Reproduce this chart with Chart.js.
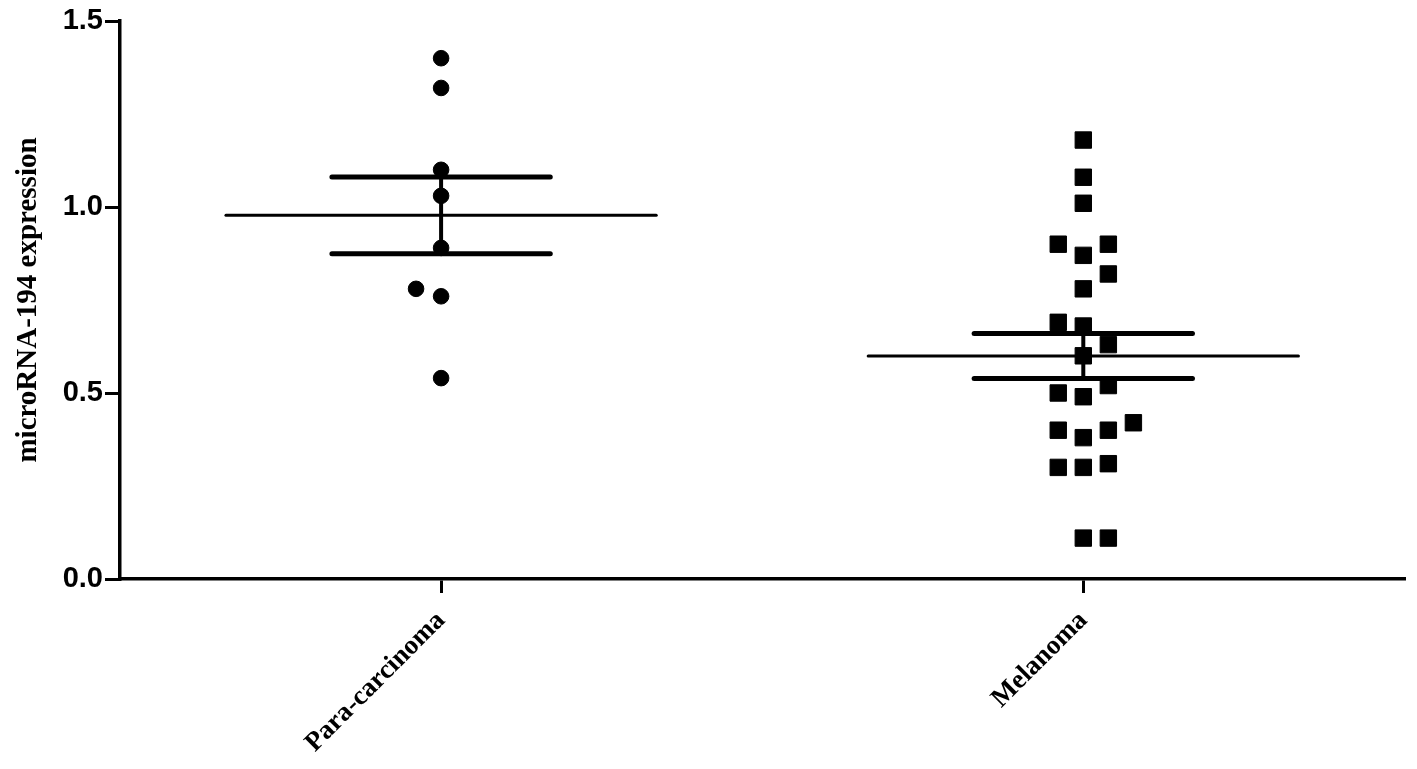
<!DOCTYPE html>
<html>
<head>
<meta charset="utf-8">
<script src="https://cdn.jsdelivr.net/npm/chart.js@4"></script>
<style>
  html, body { margin: 0; padding: 0; background: #fff; }
  #wrap { width: 1417px; height: 769px; }
</style>
</head>
<body>
<div id="wrap"><canvas id="myChart" width="1417" height="769"></canvas></div>
<script>
// Grupos del eje X
const categories = ['Para-carcinoma', 'Melanoma'];

// Valores de expresión
const paraValues = [1.40, 1.32, 1.10, 1.03, 0.89, 0.78, 0.76, 0.54];
const paraCols   = [0, 0, 0, 0, 0, -1, 0, 0]; // columna de dispersión

const melanomaValues = [1.18, 1.08, 1.01, 0.90, 0.90, 0.87, 0.82, 0.78, 0.69, 0.68, 0.63, 0.60,
                        0.52, 0.50, 0.49, 0.42, 0.40, 0.40, 0.38, 0.30, 0.30, 0.31, 0.11, 0.11];
const melanomaCols   = [0, 0, 0, -1, 1, 0, 1, 0, -1, 0, 1, 0,
                        1, -1, 0, 2, -1, 1, 0, -1, 0, 1, 0, 1];

const yTicks = [0, 0.5, 1.0, 1.5];

document.addEventListener('DOMContentLoaded', function() {
    const canvas = document.getElementById('myChart');
    const ctx = canvas.getContext('2d');

    const jitter = 0.039;
    const meanHalf = 0.335;
    const semHalf = 0.17;

    function puntos(values, cols, cat) {
        return values.map(function(v, i) { return { x: cat + cols[i] * jitter, y: v }; });
    }

    function media(values) {
        return values.reduce(function(a, b) { return a + b; }, 0) / values.length;
    }

    function sem(values) {
        const m = media(values);
        const ss = values.reduce(function(a, b) { return a + (b - m) * (b - m); }, 0);
        return Math.sqrt(ss / (values.length - 1)) / Math.sqrt(values.length);
    }

    function segmento(x1, y1, x2, y2, width) {
        return {
            data: [{ x: x1, y: y1 }, { x: x2, y: y2 }],
            showLine: true,
            borderColor: '#000',
            borderWidth: width,
            borderCapStyle: 'round',
            pointRadius: 0,
            pointHoverRadius: 0
        };
    }

    function resumen(values, cat) {
        const m = media(values);
        const s = sem(values);
        return [
            segmento(cat - meanHalf, m, cat + meanHalf, m, 3),
            segmento(cat - semHalf, m + s, cat + semHalf, m + s, 5),
            segmento(cat - semHalf, m - s, cat + semHalf, m - s, 5),
            segmento(cat, m - s, cat, m + s, 4)
        ];
    }

    const datasets = [
        {
            data: puntos(paraValues, paraCols, 1),
            pointStyle: 'circle',
            pointRadius: 7.8,
            pointBorderWidth: 1,
            pointBackgroundColor: '#000',
            pointBorderColor: '#000',
            showLine: false
        },
        {
            data: puntos(melanomaValues, melanomaCols, 2),
            pointStyle: 'rect',
            pointRadius: 11.6,
            pointBorderWidth: 1,
            pointBackgroundColor: '#000',
            pointBorderColor: '#000',
            showLine: false
        }
    ].concat(resumen(paraValues, 1), resumen(melanomaValues, 2));

    new Chart(ctx, {
        type: 'scatter',
        data: { datasets: datasets },
        options: {
            responsive: false,
            animation: false,
            events: [],
            layout: { padding: { top: 21, right: 12, left: 0, bottom: 0 } },
            plugins: { legend: { display: false }, tooltip: { enabled: false } },
            scales: {
                x: {
                    type: 'linear',
                    min: 0.5,
                    max: 2.5,
                    afterBuildTicks: function(scale) {
                        scale.ticks = categories.map(function(c, i) { return { value: i + 1 }; });
                    },
                    afterFit: function(scale) { scale.height = 190; },
                    border: { display: true, color: '#000', width: 3.5 },
                    grid: { display: true, drawOnChartArea: false, color: '#000', lineWidth: 3, tickLength: 14 },
                    ticks: {
                        color: '#000',
                        minRotation: 45,
                        maxRotation: 45,
                        padding: 12,
                        font: { family: 'Liberation Serif', weight: 'bold', size: 27 },
                        callback: function(v) { return categories[Math.round(v) - 1]; }
                    }
                },
                y: {
                    min: 0,
                    max: 1.5,
                    afterBuildTicks: function(scale) {
                        scale.ticks = yTicks.map(function(v) { return { value: v }; });
                    },
                    afterFit: function(scale) { scale.width = 120; },
                    border: { display: true, color: '#000', width: 3.5 },
                    grid: { display: true, drawOnChartArea: false, color: '#000', lineWidth: 3, tickLength: 15 },
                    ticks: {
                        color: '#000',
                        padding: 2,
                        font: { family: 'Liberation Sans', weight: 'bold', size: 29 },
                        callback: function(v) { return v.toFixed(1); }
                    },
                    title: {
                        display: true,
                        text: 'microRNA-194 expression',
                        color: '#000',
                        padding: { top: 11, bottom: 0 },
                        font: { family: 'Liberation Serif', weight: 'bold', size: 29 }
                    }
                }
            }
        }
    });
});
</script>
</body>
</html>
